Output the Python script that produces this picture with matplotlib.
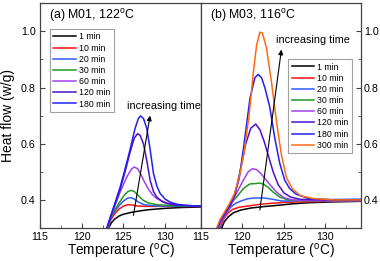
import matplotlib
matplotlib.use("Agg")
import matplotlib.pyplot as plt
from matplotlib.ticker import MultipleLocator

plt.rcParams['font.family'] = ['Liberation Sans', 'DejaVu Sans']
plt.rcParams['mathtext.fontset'] = 'custom'
plt.rcParams['mathtext.rm'] = 'Liberation Sans'

labels_a = ["1 min", "10 min", "20 min", "30 min", "60 min", "120 min", "180 min"]
labels_b = ["1 min", "10 min", "20 min", "30 min", "60 min", "120 min", "180 min", "300 min"]
colors = ["#000000", "#ff1010", "#2f5bff", "#1f9a1f", "#a040f0", "#5010c8", "#2020f0", "#ff6a10"]

# Panel (a): M01, 122 C  -- (temperature, heat flow)
a_T = [
    [123.2, 123.6, 124.0, 124.5, 125.0, 126.0, 127.0, 128.0, 130.0, 132.0, 134.5],
    [123.15, 123.5, 124.0, 124.5, 125.0, 125.5, 126.0, 126.5, 127.5, 129.0, 132.0, 134.5],
    [123.1, 123.5, 124.0, 124.5, 125.0, 125.5, 125.9, 126.3, 126.8, 127.5, 128.5, 130.0, 134.5],
    [123.1, 123.5, 124.0, 124.5, 125.0, 125.5, 125.9, 126.3, 126.8, 127.3, 128.0, 129.0, 130.5, 134.5],
    [123.1, 123.5, 124.0, 124.5, 125.0, 125.5, 126.0, 126.3, 126.7, 127.1, 127.5, 128.0, 128.5, 129.0, 130.0, 131.0, 132.5, 134.5],
    [123.05, 123.5, 124.0, 124.6, 125.2, 125.8, 126.3, 126.7, 127.0, 127.4, 127.8, 128.2, 128.6, 129.0, 129.6, 130.2, 131.5, 134.5],
    [123.0, 123.5, 124.0, 124.6, 125.2, 125.8, 126.4, 126.8, 127.05, 127.4, 127.8, 128.2, 128.6, 129.0, 129.4, 130.0, 130.6, 131.5, 132.6, 134.5],
]
a_Q = [
    [0.30, 0.32, 0.333, 0.343, 0.349, 0.356, 0.361, 0.365, 0.370, 0.373, 0.375],
    [0.30, 0.33, 0.352, 0.368, 0.378, 0.383, 0.382, 0.379, 0.377, 0.377, 0.377, 0.377],
    [0.30, 0.335, 0.36, 0.38, 0.396, 0.406, 0.408, 0.403, 0.392, 0.383, 0.379, 0.378, 0.377],
    [0.30, 0.337, 0.365, 0.39, 0.413, 0.429, 0.434, 0.430, 0.415, 0.400, 0.389, 0.383, 0.380, 0.378],
    [0.30, 0.34, 0.38, 0.42, 0.455, 0.487, 0.511, 0.517, 0.511, 0.490, 0.465, 0.438, 0.418, 0.405, 0.391, 0.384, 0.380, 0.378],
    [0.30, 0.343, 0.385, 0.437, 0.50, 0.57, 0.62, 0.636, 0.63, 0.60, 0.54, 0.47, 0.43, 0.41, 0.395, 0.387, 0.381, 0.378],
    [0.30, 0.345, 0.39, 0.445, 0.51, 0.58, 0.655, 0.69, 0.699, 0.69, 0.655, 0.58, 0.495, 0.45, 0.423, 0.403, 0.392, 0.384, 0.380, 0.378],
]

# Panel (b): M03, 116 C
b_T = [
    [117.5, 117.8, 118.3, 118.9, 119.8, 121.0, 122.5, 124.0, 126.0, 128.0, 131.0, 134.5],
    [117.3, 117.7, 118.2, 118.8, 119.6, 120.6, 122.0, 123.5, 125.0, 127.0, 130.0, 134.5],
    [117.2, 117.6, 118.1, 118.6, 119.2, 119.8, 120.6, 121.5, 122.5, 123.3, 124.0, 124.8, 125.8, 127.0, 130.0, 134.5],
    [117.1, 117.6, 118.5, 119.3, 120.1, 120.9, 121.5, 122.1, 122.6, 123.1, 123.7, 124.5, 125.5, 127.0, 134.5],
    [117.1, 117.5, 118.0, 118.6, 119.3, 120.1, 120.7, 121.2, 121.7, 122.2, 123.1, 124.1, 125.0, 126.0, 128.0, 134.5],
    [117.0, 117.4, 117.9, 118.5, 119.1, 119.7, 120.4, 121.0, 121.6, 122.1, 122.6, 123.1, 123.7, 124.3, 125.0, 125.8, 127.0, 130.0, 134.5],
    [116.95, 117.3, 117.8, 118.4, 119.0, 119.6, 120.2, 120.9, 121.5, 121.9, 122.3, 122.7, 123.3, 123.9, 124.5, 125.1, 125.7, 126.5, 128.0, 131.0, 134.5],
    [116.9, 117.3, 117.8, 118.4, 119.0, 119.6, 120.2, 120.8, 121.3, 121.7, 122.1, 122.4, 122.9, 123.5, 124.1, 124.7, 125.3, 126.0, 127.0, 128.5, 131.0, 134.5],
]
b_Q = [
    [0.30, 0.322, 0.34, 0.354, 0.364, 0.371, 0.376, 0.38, 0.386, 0.39, 0.393, 0.395],
    [0.30, 0.33, 0.352, 0.366, 0.374, 0.378, 0.384, 0.388, 0.391, 0.393, 0.395, 0.397],
    [0.30, 0.33, 0.355, 0.375, 0.388, 0.396, 0.404, 0.407, 0.407, 0.404, 0.40, 0.396, 0.396, 0.398, 0.401, 0.403],
    [0.30, 0.33, 0.385, 0.41, 0.44, 0.457, 0.458, 0.46, 0.455, 0.445, 0.428, 0.41, 0.40, 0.397, 0.397],
    [0.30, 0.325, 0.35, 0.38, 0.425, 0.47, 0.50, 0.511, 0.508, 0.495, 0.462, 0.428, 0.408, 0.40, 0.397, 0.397],
    [0.30, 0.328, 0.352, 0.38, 0.42, 0.50, 0.60, 0.655, 0.670, 0.65, 0.61, 0.56, 0.50, 0.455, 0.425, 0.41, 0.402, 0.40, 0.398],
    [0.30, 0.328, 0.352, 0.38, 0.415, 0.475, 0.60, 0.76, 0.835, 0.847, 0.835, 0.80, 0.73, 0.62, 0.53, 0.47, 0.44, 0.42, 0.405, 0.40, 0.40],
    [0.30, 0.33, 0.355, 0.385, 0.42, 0.48, 0.57, 0.70, 0.85, 0.95, 0.997, 0.995, 0.94, 0.82, 0.68, 0.56, 0.48, 0.44, 0.415, 0.405, 0.40, 0.40],
]

arrow_a = [(126.2, 0.345), (128.2, 0.70)]
arrow_b = [(122.1, 0.364), (124.7, 0.935)]

fig = plt.figure(figsize=(3.8, 2.61), dpi=100)
axa = fig.add_axes([40/380, 1-228/261, 161/380, 224.7/261])
axb = fig.add_axes([201/380, 1-228/261, 160/380, 224.7/261])

spine_c = "#444444"
for ax, Ts, Qs, labs, ar, title, leg_anchor, leg_loc, txt in [
        (axa, a_T, a_Q, labels_a, arrow_a, "(a) M01, 122$^{\\rm o}$C", (0.062, 0.886), 'upper left', (125.4, 0.735)),
        (axb, b_T, b_Q, labels_b, arrow_b, "(b) M03, 116$^{\\rm o}$C", (0.545, 0.752), 'upper left', (124.1, 0.97))]:
    for T, Q, lab, c in zip(Ts, Qs, labs, colors):
        ax.plot(T, Q, color=c, lw=1.1, label=lab)
    ax.annotate("", xy=ar[1], xytext=ar[0],
                arrowprops=dict(arrowstyle="-|>", color="black", lw=0.8,
                                mutation_scale=7, shrinkA=0, shrinkB=0))
    ax.text(txt[0], txt[1], "increasing time", fontsize=7.8, ha='left', va='center')
    ax.text(0.055, 0.945, title, transform=ax.transAxes, fontsize=8.9, ha='left', va='center')
    ax.set_xlim(115, 134.3)
    ax.set_ylim(0.3, 1.1)
    ax.xaxis.set_major_locator(MultipleLocator(5))
    ax.xaxis.set_minor_locator(MultipleLocator(2.5))
    ax.yaxis.set_major_locator(MultipleLocator(0.2))
    ax.yaxis.set_minor_locator(MultipleLocator(0.1))
    ax.set_xlabel("Temperature ($^{\\rm o}$C)", fontsize=9.8, labelpad=0)
    for s in ax.spines.values():
        s.set_color(spine_c)
        s.set_linewidth(0.9)
    leg = ax.legend(loc=leg_loc, bbox_to_anchor=leg_anchor, fontsize=6.3, frameon=True,
                    fancybox=False, edgecolor="#888888", handlelength=2.6,
                    handletextpad=0.3, labelspacing=0.25, borderpad=0.4, borderaxespad=0)
    leg.get_frame().set_linewidth(0.8)

axa.tick_params(axis='both', which='both', direction='in', labelsize=7.7, color=spine_c, pad=3)
axa.tick_params(axis='both', which='major', length=3.5)
axa.tick_params(axis='both', which='minor', length=2.5)
axa.set_xticks([115, 120, 125, 130])
axa.xaxis.set_minor_locator(MultipleLocator(2.5))
axa.set_ylabel("Heat flow (w/g)", fontsize=10, labelpad=4)

axb.yaxis.tick_right()
axb.tick_params(axis='both', which='both', direction='in', labelsize=7.7, color=spine_c)
axb.tick_params(axis='x', pad=3)
axb.tick_params(axis='y', pad=2)
axb.tick_params(axis='both', which='major', length=3.5)
axb.tick_params(axis='both', which='minor', length=2.5)
axb.set_xticks([115, 120, 125, 130])
axb.xaxis.set_minor_locator(MultipleLocator(2.5))

fig.savefig("out.png", dpi=100)
